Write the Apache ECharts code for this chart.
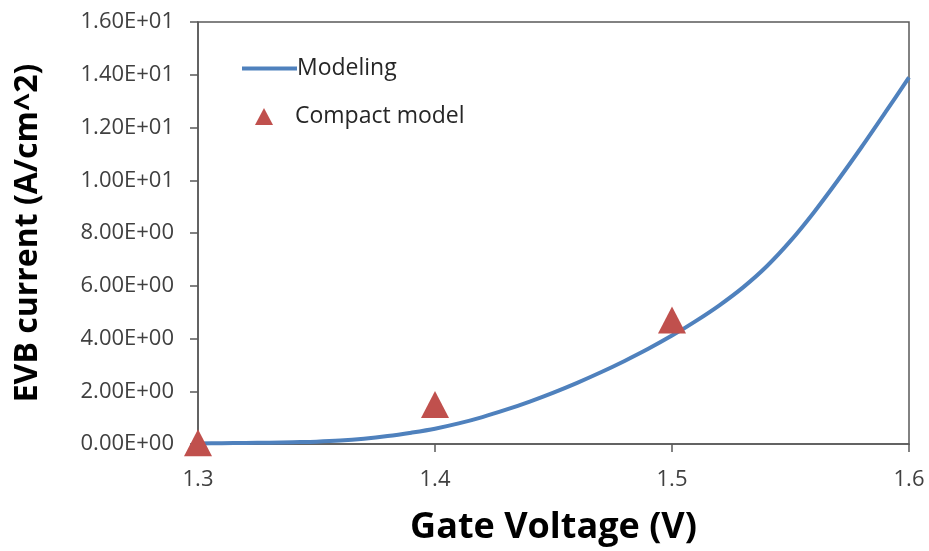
<!DOCTYPE html>
<html>
<head>
<meta charset="utf-8">
<script src="https://cdn.jsdelivr.net/npm/echarts@6/dist/echarts.min.js"></script>
<style>
  html, body { margin: 0; padding: 0; background: #fff; }
  #chart { width: 929px; height: 551px; }
</style>
</head>
<body>
<div id="chart"></div>
<script>
// data
const modelingV = [1.30, 1.31, 1.32, 1.33, 1.34, 1.35, 1.36, 1.37, 1.38, 1.39, 1.40,
  1.41, 1.42, 1.43, 1.44, 1.45, 1.46, 1.47, 1.48, 1.49, 1.50,
  1.51, 1.52, 1.53, 1.54, 1.55, 1.56, 1.57, 1.58, 1.59, 1.60];
const modelingJ = [0.02, 0.03, 0.04, 0.05, 0.07, 0.09, 0.13, 0.2, 0.3, 0.43, 0.58,
  0.78, 1.02, 1.30, 1.61, 1.95, 2.32, 2.72, 3.15, 3.61, 4.11,
  4.66, 5.26, 5.94, 6.74, 7.7, 8.8, 10.0, 11.26, 12.57, 13.9];
const compactV = [1.3, 1.4, 1.5];
const compactJ = [0.05, 1.5, 4.7];

const xTicks = { min: 1.3, max: 1.6, step: 0.1 };
const yTicks = { min: 0, max: 16, step: 2 };

const font = '"Open Sans", "Noto Sans", sans-serif';
const axisColor = '#595959';

function sci(v) {
  const s = v.toExponential(2).split('e');
  let e = parseInt(s[1], 10);
  const sign = e < 0 ? '-' : '+';
  e = Math.abs(e);
  return s[0] + 'E' + sign + (e < 10 ? '0' + e : e);
}

const chart = echarts.init(document.getElementById('chart'));

const option = {
  animation: false,
  backgroundColor: '#fff',
  grid: {
    left: 198, right: 20, top: 22, bottom: 107,
    outerBoundsMode: 'none',
    show: true, borderColor: axisColor, borderWidth: 1.5
  },
  legend: [
    {
      left: 237, top: 52,
      itemWidth: 55, itemHeight: 4,
      icon: 'rect',
      textStyle: { fontFamily: font, fontSize: 23, color: '#262626', padding: [0, 0, 0, -5] },
      data: ['Modeling']
    },
    {
      left: 250, top: 100,
      itemWidth: 18, itemHeight: 17,
      icon: 'triangle',
      textStyle: { fontFamily: font, fontSize: 23, color: '#262626', padding: [0, 0, 0, 17] },
      data: ['Compact model']
    }
  ],
  xAxis: {
    type: 'value',
    min: xTicks.min, max: xTicks.max, interval: xTicks.step,
    name: 'Gate Voltage (V)',
    nameLocation: 'middle',
    nameGap: 66,
    nameTextStyle: { fontFamily: font, fontSize: 36, fontWeight: 'bold', color: '#000' },
    axisLine: { lineStyle: { color: axisColor, width: 1.5 } },
    axisTick: { show: true, inside: false, length: 8, lineStyle: { color: axisColor, width: 1.5 } },
    axisLabel: {
      fontFamily: font, fontSize: 22, color: '#404040', margin: 25,
      formatter: v => v.toFixed(1)
    },
    splitLine: { show: false }
  },
  yAxis: {
    type: 'value',
    min: yTicks.min, max: yTicks.max, interval: yTicks.step,
    name: 'EVB current (A/cm^2)',
    nameLocation: 'middle',
    nameGap: 154,
    nameTextStyle: { fontFamily: font, fontSize: 32, fontWeight: 'bold', color: '#000' },
    axisLine: { show: true, lineStyle: { color: axisColor, width: 1.5 } },
    axisTick: { show: true, inside: false, length: 8, lineStyle: { color: axisColor, width: 1.5 } },
    axisLabel: {
      fontFamily: font, fontSize: 22, color: '#404040', margin: 24,
      formatter: sci
    },
    splitLine: { show: false }
  },
  series: [
    {
      name: 'Modeling',
      type: 'line',
      symbol: 'none',
      smooth: 0.3,
      lineStyle: { color: '#4F81BD', width: 4 },
      itemStyle: { color: '#4F81BD' },
      data: modelingV.map((v, i) => [v, modelingJ[i]])
    },
    {
      name: 'Compact model',
      type: 'scatter',
      symbol: 'triangle',
      symbolSize: [28, 27],
      clip: false,
      itemStyle: { color: '#C0504D', opacity: 1 },
      z: 3,
      data: compactV.map((v, i) => [v, compactJ[i]])
    }
  ]
};

chart.setOption(option);
</script>
</body>
</html>
